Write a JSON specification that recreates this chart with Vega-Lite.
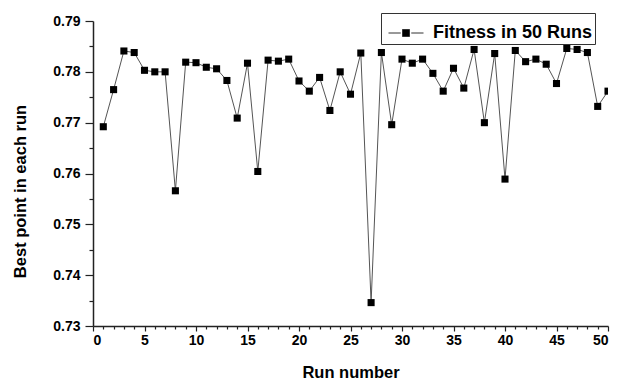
{
  "$schema": "https://vega.github.io/schema/vega-lite/v6.json",
  "width": 515,
  "height": 305,
  "autosize": "none",
  "padding": {"left": 93, "top": 21, "right": 13, "bottom": 55},
  "background": "white",
  "config": {
    "view": {"stroke": null},
    "axis": {
      "grid": false,
      "labelFont": "Liberation Sans",
      "labelFontWeight": "bold",
      "labelFontSize": 14,
      "labelColor": "black",
      "titleFont": "Liberation Sans",
      "titleFontWeight": "bold",
      "titleFontSize": 16.5,
      "titleColor": "black",
      "domainColor": "#222",
      "domainWidth": 1.5,
      "tickColor": "#222",
      "tickWidth": 1.2
    }
  },
  "data": {"values": [
    {"run": 1, "best": 0.7692},
    {"run": 2, "best": 0.7765},
    {"run": 3, "best": 0.7841},
    {"run": 4, "best": 0.7838},
    {"run": 5, "best": 0.7803},
    {"run": 6, "best": 0.7800},
    {"run": 7, "best": 0.7800},
    {"run": 8, "best": 0.7566},
    {"run": 9, "best": 0.7819},
    {"run": 10, "best": 0.7818},
    {"run": 11, "best": 0.7809},
    {"run": 12, "best": 0.7806},
    {"run": 13, "best": 0.7783},
    {"run": 14, "best": 0.7709},
    {"run": 15, "best": 0.7817},
    {"run": 16, "best": 0.7604},
    {"run": 17, "best": 0.7823},
    {"run": 18, "best": 0.7821},
    {"run": 19, "best": 0.7825},
    {"run": 20, "best": 0.7782},
    {"run": 21, "best": 0.7762},
    {"run": 22, "best": 0.7789},
    {"run": 23, "best": 0.7724},
    {"run": 24, "best": 0.7800},
    {"run": 25, "best": 0.7756},
    {"run": 26, "best": 0.7837},
    {"run": 27, "best": 0.7346},
    {"run": 28, "best": 0.7838},
    {"run": 29, "best": 0.7696},
    {"run": 30, "best": 0.7825},
    {"run": 31, "best": 0.7817},
    {"run": 32, "best": 0.7825},
    {"run": 33, "best": 0.7797},
    {"run": 34, "best": 0.7762},
    {"run": 35, "best": 0.7807},
    {"run": 36, "best": 0.7768},
    {"run": 37, "best": 0.7844},
    {"run": 38, "best": 0.7700},
    {"run": 39, "best": 0.7836},
    {"run": 40, "best": 0.7589},
    {"run": 41, "best": 0.7842},
    {"run": 42, "best": 0.7820},
    {"run": 43, "best": 0.7825},
    {"run": 44, "best": 0.7815},
    {"run": 45, "best": 0.7777},
    {"run": 46, "best": 0.7846},
    {"run": 47, "best": 0.7844},
    {"run": 48, "best": 0.7838},
    {"run": 49, "best": 0.7732},
    {"run": 50, "best": 0.7762}
  ]},
  "layer": [
    {
      "mark": {"type": "line", "color": "#555", "strokeWidth": 1, "clip": true},
      "encoding": {
        "x": {"field": "run", "type": "quantitative", "scale": {"domain": [0, 50], "nice": false},
          "axis": {"orient": "bottom", "values": [0, 5, 10, 15, 20, 25, 30, 35, 40, 45, 50], "tickSize": 5, "labelPadding": 2, "title": "Run number", "titlePadding": 17}},
        "y": {"field": "best", "type": "quantitative", "scale": {"domain": [0.73, 0.79], "nice": false, "zero": false},
          "axis": {"orient": "left", "values": [0.73, 0.74, 0.75, 0.76, 0.77, 0.78, 0.79], "format": ".2f", "tickSize": 8, "labelPadding": 5, "title": "Best point in each run", "titlePadding": 24, "titleY": 170}}
      }
    },
    {
      "mark": {"type": "point", "shape": "square", "filled": true, "size": 50, "opacity": 1, "clip": true},
      "encoding": {
        "x": {"field": "run", "type": "quantitative",
          "axis": {"orient": "bottom", "values": [1,2,3,4,6,7,8,9,11,12,13,14,16,17,18,19,21,22,23,24,26,27,28,29,31,32,33,34,36,37,38,39,41,42,43,44,46,47,48,49], "tickSize": 3, "labels": false, "title": null, "domain": false}},
        "y": {"field": "best", "type": "quantitative",
          "axis": {"orient": "left", "values": [0.735, 0.745, 0.755, 0.765, 0.775, 0.785], "tickSize": 4, "labels": false, "title": null, "domain": false}},
        "color": {"datum": "Fitness in 50 Runs", "type": "nominal", "scale": {"range": ["black"]},
          "legend": {
            "title": null, "orient": "none", "legendX": 288, "legendY": -8,
            "strokeColor": "#333", "padding": 2, "symbolOffset": 5,
            "symbolType": "M-1,0H-0.3M0.3,0H1M-0.2,-0.2H0.2V0.2H-0.2Z",
            "symbolSize": 1225, "symbolStrokeColor": "#333", "symbolStrokeWidth": 1,
            "labelFont": "Liberation Sans", "labelFontWeight": "bold", "labelFontSize": 18, "labelColor": "black", "labelOffset": 9
          }}
      }
    }
  ],
  "resolve": {"axis": {"x": "independent", "y": "independent"}}
}
